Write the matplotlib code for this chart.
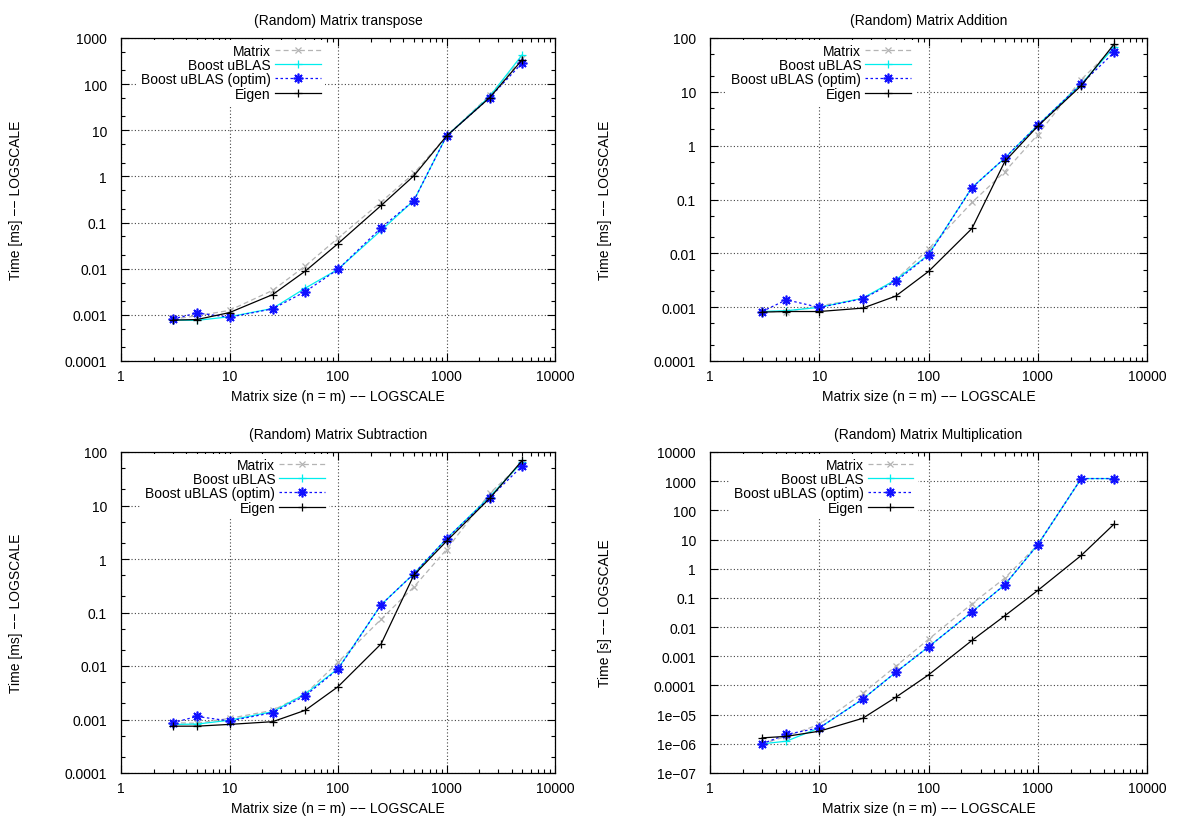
import matplotlib
matplotlib.use("Agg")
import matplotlib.pyplot as plt
from matplotlib.ticker import FixedLocator, FixedFormatter, LogLocator, NullFormatter

plt.rcParams['font.family'] = ['Liberation Sans', 'DejaVu Sans']

sizes = [3, 5, 10, 25, 50, 100, 250, 500, 1000, 2500, 5000]
series_names = ["Matrix", "Boost uBLAS", "Boost uBLAS (optim)", "Eigen"]

# (Random) Matrix transpose  [ms]
transpose_matrix = [0.00081, 0.00095, 0.00125, 0.0034, 0.0115, 0.046, 0.28, 1.16, 7.5, 57, 370]
transpose_boost = [0.00077, 0.00076, 0.00091, 0.00138, 0.0038, 0.0097, 0.068, 0.30, 7.5, 54, 437]
transpose_optim = [0.00081, 0.0011, 0.00089, 0.00135, 0.0032, 0.0097, 0.077, 0.30, 7.5, 51, 290]
transpose_eigen = [0.00077, 0.00079, 0.00112, 0.00275, 0.0089, 0.035, 0.235, 1.03, 7.5, 51, 340]

# (Random) Matrix Addition  [ms]
add_matrix = [0.00083, 0.00083, 0.00106, 0.00143, 0.0032, 0.012, 0.088, 0.33, 1.6, 16.9, 67]
add_boost = [0.00083, 0.00086, 0.00099, 0.00147, 0.0032, 0.0094, 0.167, 0.59, 2.4, 14, 67]
add_optim = [0.00083, 0.00137, 0.00099, 0.00143, 0.0030, 0.0092, 0.166, 0.59, 2.4, 14, 54]
add_eigen = [0.00081, 0.00083, 0.00083, 0.00096, 0.0016, 0.0046, 0.029, 0.51, 2.3, 13, 77]

# (Random) Matrix Subtraction  [ms]
sub_matrix = [0.00087, 0.00085, 0.00105, 0.00148, 0.0030, 0.0118, 0.075, 0.30, 1.5, 16.8, 63]
sub_boost = [0.00081, 0.00082, 0.00097, 0.0014, 0.0030, 0.0089, 0.14, 0.53, 2.4, 14.6, 65]
sub_optim = [0.00087, 0.00114, 0.00094, 0.00134, 0.0028, 0.0087, 0.14, 0.53, 2.4, 14, 55]
sub_eigen = [0.00075, 0.00075, 0.00081, 0.00091, 0.00149, 0.0041, 0.026, 0.50, 2.15, 13.6, 70]

# (Random) Matrix Multiplication  [s]
mul_matrix = [1.0e-6, 1.8e-6, 4.6e-6, 5.4e-5, 4.5e-4, 0.0038, 0.063, 0.48, 6.6, 1230, 1230]
mul_boost = [1.0e-6, 1.23e-6, 3.5e-6, 3.4e-5, 2.8e-4, 0.0021, 0.033, 0.285, 6.6, 1230, 1230]
mul_optim = [1.0e-6, 2.1e-6, 3.5e-6, 3.4e-5, 2.8e-4, 0.0021, 0.033, 0.285, 6.6, 1230, 1230]
mul_eigen = [1.6e-6, 1.8e-6, 2.7e-6, 7.5e-6, 3.9e-5, 2.3e-4, 0.0035, 0.0245, 0.18, 2.85, 34]

titles = ["(Random) Matrix transpose", "(Random) Matrix Addition",
          "(Random) Matrix Subtraction", "(Random) Matrix Multiplication"]
ylabels = ["Time [ms] −− LOGSCALE", "Time [ms] −− LOGSCALE",
           "Time [ms] −− LOGSCALE", "Time [s] −− LOGSCALE"]
xlabel = "Matrix size (n = m) −− LOGSCALE"

x_ticks = [1, 10, 100, 1000, 10000]
x_ticklabels = ["1", "10", "100", "1000", "10000"]

y_ticks_ms3 = [1e-4, 1e-3, 1e-2, 1e-1, 1, 10, 100, 1000]
y_labels_ms3 = ["0.0001", "0.001", "0.01", "0.1", "1", "10", "100", "1000"]
y_ticks_ms2 = [1e-4, 1e-3, 1e-2, 1e-1, 1, 10, 100]
y_labels_ms2 = ["0.0001", "0.001", "0.01", "0.1", "1", "10", "100"]
y_ticks_s = [1e-7, 1e-6, 1e-5, 1e-4, 1e-3, 1e-2, 1e-1, 1, 10, 100, 1000, 10000]
y_labels_s = ["1e−07", "1e−06", "1e−05", "0.0001", "0.001", "0.01", "0.1",
              "1", "10", "100", "1000", "10000"]

panels = [
    (titles[0], ylabels[0], [transpose_matrix, transpose_boost, transpose_optim, transpose_eigen],
     y_ticks_ms3, y_labels_ms3, True),
    (titles[1], ylabels[1], [add_matrix, add_boost, add_optim, add_eigen],
     y_ticks_ms2, y_labels_ms2, True),
    (titles[2], ylabels[2], [sub_matrix, sub_boost, sub_optim, sub_eigen],
     y_ticks_ms2, y_labels_ms2, True),
    (titles[3], ylabels[3], [mul_matrix, mul_boost, mul_optim, mul_eigen],
     y_ticks_s, y_labels_s, False),
]

styles = [
    dict(color="#b4b4b4", linestyle=(0, (4, 2.5)), marker="x", markersize=5, markeredgewidth=0.9),
    dict(color="#00eeee", linestyle="-", marker="+", markersize=6, markeredgewidth=0.9),
    dict(color="#1010ff", linestyle=(0, (2, 2)), marker=(8, 2, 0), markersize=7, markeredgewidth=1.2),
    dict(color="#000000", linestyle="-", marker="+", markersize=6, markeredgewidth=0.9),
]

W, H = 1192, 820
fig = plt.figure(figsize=(W / 100, H / 100), dpi=100)
boxes = [(121, 39, 555, 362), (710, 39, 1147, 362),
         (121, 453, 555, 774), (710, 453, 1147, 774)]
legend_anchor = [0.47, 0.47, 0.48, 0.475]

FS = 10
for i, (title, ylab, data, yt, ytl, ymin_minor) in enumerate(panels):
    l, t, r, b = boxes[i]
    ax = fig.add_axes([l / W, (H - b) / H, (r - l) / W, (b - t) / H])
    for name, vals, st in zip(series_names, data, styles):
        ax.plot(sizes, vals, label=name, linewidth=0.9, **st)
    ax.set_xscale("log")
    ax.set_yscale("log")
    ax.set_xlim(x_ticks[0], x_ticks[-1])
    ax.set_ylim(yt[0], yt[-1])
    ax.xaxis.set_major_locator(FixedLocator(x_ticks))
    ax.xaxis.set_major_formatter(FixedFormatter(x_ticklabels))
    ax.xaxis.set_minor_locator(LogLocator(base=10, subs=[2, 3, 4, 5, 6, 7, 8, 9], numticks=20))
    ax.xaxis.set_minor_formatter(NullFormatter())
    ax.yaxis.set_major_locator(FixedLocator(yt))
    ax.yaxis.set_major_formatter(FixedFormatter(ytl))
    if ymin_minor:
        ax.yaxis.set_minor_locator(LogLocator(base=10, subs=[2, 5], numticks=20))
    else:
        ax.yaxis.set_minor_locator(FixedLocator([]))
    ax.yaxis.set_minor_formatter(NullFormatter())
    ax.tick_params(which="both", direction="in", top=True, right=True, labelsize=FS, width=0.8)
    ax.tick_params(which="major", length=6)
    ax.tick_params(axis="y", which="major", pad=10)
    ax.tick_params(axis="x", which="major", pad=6)
    ax.tick_params(which="minor", length=3)
    ax.grid(True, which="major", color="#444444", linestyle=(0, (1, 2)), linewidth=0.8)
    for sp in ax.spines.values():
        sp.set_linewidth(0.9)
    ax.set_title(title, fontsize=FS, pad=10)
    ax.set_xlabel(xlabel, fontsize=FS, labelpad=4)
    ax.set_ylabel(ylab, fontsize=FS, labelpad=30)
    leg = ax.legend(loc="upper right", bbox_to_anchor=(legend_anchor[i], 0.995),
                    markerfirst=False, fontsize=FS, frameon=True, fancybox=False,
                    borderaxespad=0, borderpad=0.3, labelspacing=0.02,
                    handlelength=3.3, handletextpad=0.3)
    leg.get_frame().set_facecolor("white")
    leg.get_frame().set_edgecolor("none")
    leg.get_frame().set_alpha(1.0)

fig.savefig("out.png", dpi=100)
